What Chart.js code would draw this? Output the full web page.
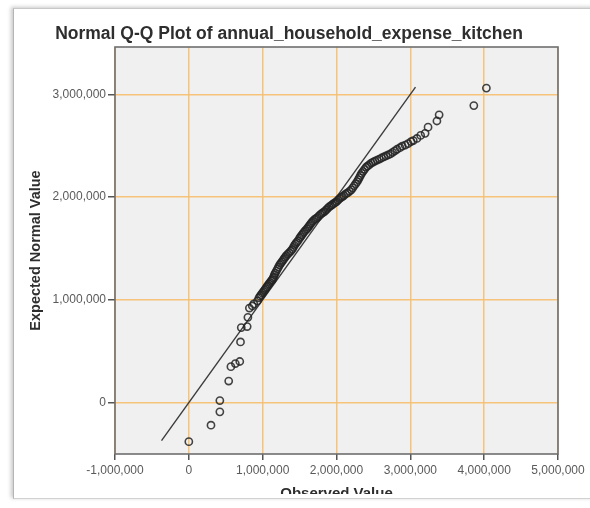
<!DOCTYPE html>
<html lang="en">
<head>
    <meta charset="UTF-8">
    <title>Normal Q-Q Plot</title>
    <script src="https://cdn.jsdelivr.net/npm/chart.js"></script>
    <style>
        body { margin: 0; background: #fff; width: 590px; height: 508px; overflow: hidden; position: relative; }
        .frame {
            position: absolute; left: 13px; top: 8px; width: 600px; height: 489px;
            border-left: 1px solid #b5b5b5; border-top: 1px solid #c8c8c8; border-bottom: 1px solid #d0d0d0;
            box-shadow: -2px -1px 4px rgba(0,0,0,0.22);
        }
        #qq { position: absolute; left: 0; top: 0; }
    </style>
</head>
<body>
    <div class="frame"></div>
    <canvas id="qq" width="590" height="494"></canvas>

    <script>
        // observed values and the matching expected normal values
        const observed = [0, 300000, 420000, 420000, 540000, 570000, 630000, 690000, 700000, 710000,
            790000, 800000, 820000, 860000, 880000, 930000, 950000, 965000, 980000, 995000,
            1010000, 1025000, 1040000, 1055000, 1070000, 1085000, 1100000, 1115000, 1130000, 1140000,
            1150000, 1160000, 1170000, 1185000, 1200000, 1215000, 1230000, 1245000, 1260000, 1275000,
            1290000, 1305000, 1320000, 1340000, 1360000, 1380000, 1400000, 1415000, 1430000, 1445000,
            1460000, 1480000, 1500000, 1515000, 1530000, 1545000, 1560000, 1580000, 1600000, 1615000,
            1630000, 1645000, 1660000, 1680000, 1700000, 1720000, 1740000, 1760000, 1780000, 1800000,
            1820000, 1840000, 1860000, 1880000, 1900000, 1920000, 1940000, 1960000, 1980000, 2000000,
            2020000, 2040000, 2060000, 2080000, 2100000, 2125000, 2150000, 2175000, 2200000, 2220000,
            2240000, 2260000, 2280000, 2295000, 2310000, 2325000, 2340000, 2360000, 2380000, 2400000,
            2420000, 2445000, 2470000, 2495000, 2520000, 2550000, 2580000, 2610000, 2640000, 2670000,
            2700000, 2730000, 2760000, 2790000, 2820000, 2860000, 2890000, 2930000, 2970000, 3010000,
            3040000, 3090000, 3140000, 3200000, 3240000, 3360000, 3390000, 3860000, 4030000];
        const expected = [-380000, -220000, -90000, 20000, 210000, 350000, 380000, 400000, 590000, 730000,
            740000, 830000, 920000, 940000, 960000, 990000, 1020000, 1035000, 1050000, 1065000,
            1080000, 1095000, 1110000, 1125000, 1140000, 1155000, 1170000, 1185000, 1195000, 1210000,
            1225000, 1245000, 1260000, 1280000, 1300000, 1320000, 1340000, 1355000, 1370000, 1385000,
            1400000, 1415000, 1430000, 1445000, 1460000, 1475000, 1490000, 1510000, 1530000, 1545000,
            1560000, 1575000, 1600000, 1615000, 1630000, 1645000, 1660000, 1675000, 1690000, 1705000,
            1720000, 1735000, 1750000, 1765000, 1780000, 1790000, 1800000, 1815000, 1830000, 1840000,
            1850000, 1860000, 1875000, 1890000, 1905000, 1915000, 1925000, 1935000, 1945000, 1955000,
            1970000, 1985000, 1995000, 2005000, 2015000, 2030000, 2040000, 2055000, 2070000, 2090000,
            2110000, 2130000, 2150000, 2170000, 2190000, 2210000, 2230000, 2250000, 2270000, 2290000,
            2300000, 2315000, 2330000, 2340000, 2350000, 2360000, 2370000, 2380000, 2390000, 2400000,
            2410000, 2420000, 2435000, 2450000, 2465000, 2480000, 2495000, 2505000, 2520000, 2540000,
            2550000, 2570000, 2600000, 2620000, 2680000, 2740000, 2800000, 2890000, 3060000];

        // reference line (y = x) end points
        const lineX = [-370000, 3070000];
        const lineY = [-370000, 3070000];

        const xTicks = [-1000000, 0, 1000000, 2000000, 3000000, 4000000, 5000000];
        const yTicks = [0, 1000000, 2000000, 3000000];

        const fontFamily = "'Liberation Sans', Arial, sans-serif";

        // grey plot background and box round the plot area
        const plotFrame = {
            id: 'plotFrame',
            beforeDraw(chart) {
                const { ctx, chartArea: a } = chart;
                ctx.save();
                ctx.fillStyle = '#f0f0f0';
                ctx.fillRect(a.left, a.top, a.right - a.left, a.bottom - a.top);
                ctx.restore();
            },
            afterDraw(chart) {
                const { ctx, chartArea: a } = chart;
                ctx.save();
                ctx.strokeStyle = '#6f6f6f';
                ctx.lineWidth = 1.6;
                ctx.strokeRect(a.left, a.top, a.right - a.left, a.bottom - a.top);
                ctx.restore();
            }
        };

        new Chart(document.getElementById('qq'), {
            type: 'scatter',
            data: {
                datasets: [{
                    label: 'Expected',
                    data: observed.map((v, i) => ({ x: v, y: expected[i] })),
                    pointStyle: 'circle',
                    pointRadius: 3.6,
                    borderWidth: 1.6,
                    borderColor: 'rgba(35,35,35,0.85)',
                    backgroundColor: 'rgba(0,0,0,0)'
                }, {
                    type: 'line',
                    label: 'Line',
                    data: lineX.map((v, i) => ({ x: v, y: lineY[i] })),
                    borderColor: '#3c3c3c',
                    borderWidth: 1.4,
                    pointRadius: 0,
                    fill: false
                }]
            },
            options: {
                responsive: false,
                animation: false,
                devicePixelRatio: 1,
                layout: { padding: { left: 20, right: 32, top: 0, bottom: 0 } },
                plugins: {
                    legend: { display: false },
                    tooltip: { enabled: false },
                    title: {
                        display: true,
                        text: 'Normal Q-Q Plot of annual_household_expense_kitchen',
                        color: '#2e2e2e',
                        font: { family: fontFamily, size: 17.5, weight: 'bold' },
                        padding: { top: 24, bottom: 2 }
                    }
                },
                scales: {
                    x: {
                        type: 'linear',
                        min: -1000000,
                        max: 5000000,
                        afterBuildTicks: s => { s.ticks = xTicks.map(v => ({ value: v })); },
                        afterFit: s => { s.height = 40; },
                        border: { display: false },
                        grid: { color: 'rgba(246,190,110,0.9)', lineWidth: 1.5, tickColor: '#555', tickLength: 6 },
                        ticks: {
                            color: '#5a5a5a', padding: 3, maxRotation: 0, autoSkip: false,
                            font: { family: fontFamily, size: 12 },
                            callback: v => v.toLocaleString('en-US')
                        },
                        title: {
                            display: true, text: 'Observed Value', color: '#2e2e2e',
                            font: { family: fontFamily, size: 15, weight: 'bold' },
                            padding: { top: 0, bottom: -9 }
                        }
                    },
                    y: {
                        type: 'linear',
                        min: -500000,
                        max: 3460000,
                        afterBuildTicks: s => { s.ticks = yTicks.map(v => ({ value: v })); },
                        afterFit: s => { s.width = 95; },
                        border: { display: false },
                        grid: { color: 'rgba(246,190,110,0.9)', lineWidth: 1.5, tickColor: '#555', tickLength: 7 },
                        ticks: {
                            color: '#5a5a5a', padding: 2, autoSkip: false,
                            font: { family: fontFamily, size: 12 },
                            callback: v => v.toLocaleString('en-US')
                        },
                        title: {
                            display: true, text: 'Expected Normal Value', color: '#2e2e2e',
                            font: { family: fontFamily, size: 14.5, weight: 'bold' },
                            padding: { top: 7, bottom: 0 }
                        }
                    }
                }
            },
            plugins: [plotFrame]
        });
    </script>
</body>
</html>
